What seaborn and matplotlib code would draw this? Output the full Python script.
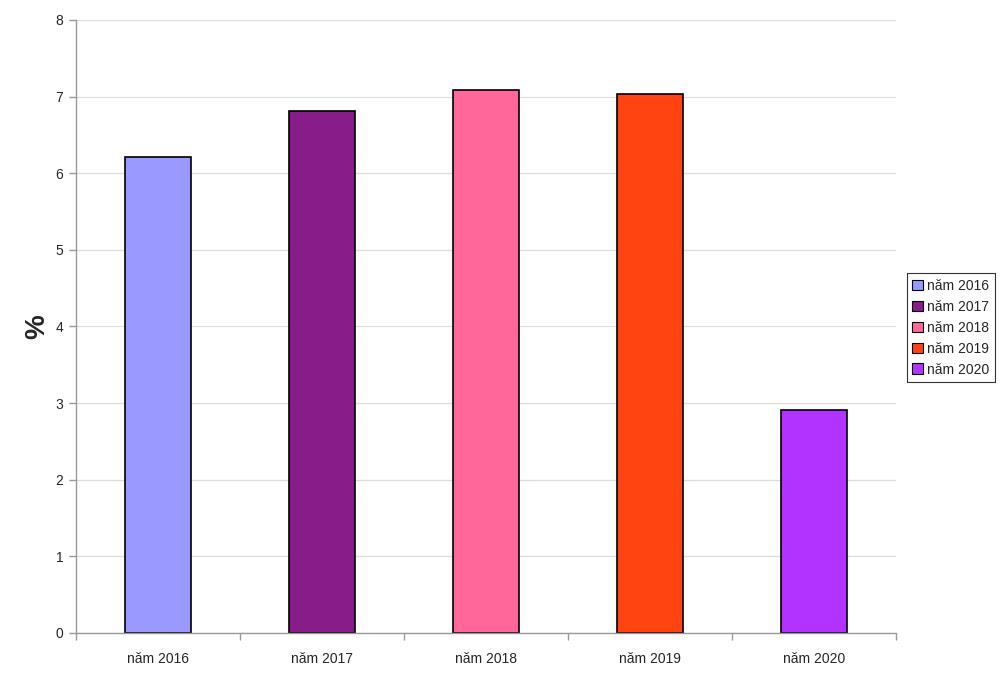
import numpy as np
import pandas as pd
import matplotlib
matplotlib.use("Agg")
import matplotlib.pyplot as plt
import seaborn as sns

# data
years = ["năm 2016", "năm 2017", "năm 2018", "năm 2019", "năm 2020"]
values = [6.21, 6.81, 7.08, 7.03, 2.91]
colors = ["#9999FF", "#881C88", "#FF6699", "#FF4412", "#B233FF"]

df = pd.DataFrame({"year": years, "value": values})

sns.set_style("white")
plt.rcParams["font.family"] = ["Liberation Sans", "DejaVu Sans"]

fig = plt.figure(figsize=(10, 6.77), dpi=100)
ax = fig.add_axes([0.076, 0.065, 0.82, 0.9055])

sns.barplot(data=df, x="year", y="value", hue="year", palette=colors,
            saturation=1, width=0.4, dodge=False, edgecolor="black",
            linewidth=1.2, legend=False, ax=ax)

ax.set_xlim(-0.5, 4.5)
ax.set_ylim(0, 8)
ax.set_yticks(range(0, 9))
ax.yaxis.grid(True, color="#dddddd", linewidth=0.9)
ax.set_axisbelow(True)

# category labels centred, tick marks on the category boundaries
ax.set_xticks(np.arange(-0.5, 5), minor=True)
ax.tick_params(axis="x", which="major", bottom=True, length=0, labelsize=10, pad=14)
ax.tick_params(axis="x", which="minor", bottom=True, length=5, width=1,
               color="#999999", direction="out")
ax.tick_params(axis="y", left=True, length=5, width=1, color="#999999",
               direction="out", labelsize=10, pad=4)

for s in ["top", "right"]:
    ax.spines[s].set_visible(False)
for s in ["left", "bottom"]:
    ax.spines[s].set_color("#999999")
    ax.spines[s].set_linewidth(1.0)

ax.set_xlabel("")
ax.set_ylabel("%", fontsize=20, fontweight="bold", labelpad=4)

handles = [plt.Rectangle((0, 0), 1, 1, facecolor=c, edgecolor="black", linewidth=0.8)
           for c in colors]
leg = ax.legend(handles, years, loc="center left", bbox_to_anchor=(1.013, 0.498),
                frameon=True, fancybox=False, fontsize=10, handlelength=0.8,
                handleheight=0.8, handletextpad=0.3, borderpad=0.4,
                labelspacing=0.5, borderaxespad=0)
leg.get_frame().set_edgecolor("black")
leg.get_frame().set_linewidth(0.8)

plt.savefig("out.png", dpi=100)
